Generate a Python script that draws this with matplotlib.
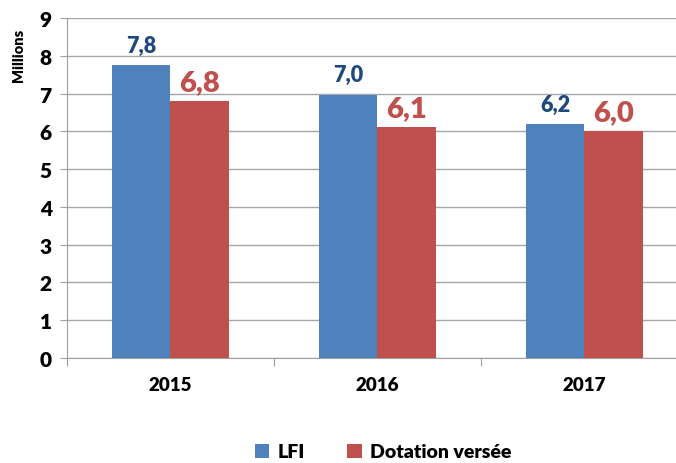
import numpy as np
import matplotlib.pyplot as plt

years = ['2015', '2016', '2017']
lfi = [7.75, 6.96, 6.19]
dotation = [6.81, 6.12, 6.02]
lfi_labels = ['7,8', '7,0', '6,2']
dot_labels = ['6,8', '6,1', '6,0']

blue = '#4F81BD'
red = '#C0504D'

plt.rcParams['font.family'] = ['Lato', 'DejaVu Sans']

fig = plt.figure(figsize=(6.76, 4.64), dpi=100)
ax = fig.add_axes([67 / 676, 1 - 359 / 464, 621 / 676, 340 / 464])

x = np.arange(len(years))
w = 0.285
b1 = ax.bar(x - w / 2, lfi, w, color=blue, label='LFI', zorder=3)
b2 = ax.bar(x + w / 2, dotation, w, color=red, label='Dotation versée', zorder=3)

for rect, lab in zip(b1, lfi_labels):
    ax.annotate(lab, (rect.get_x() + rect.get_width() / 2, rect.get_height()),
                xytext=(0, 7), textcoords='offset points', ha='center', va='bottom',
                fontsize=15.5, fontweight='heavy', color='#1F497D')
for rect, lab in zip(b2, dot_labels):
    ax.annotate(lab, (rect.get_x() + rect.get_width() / 2, rect.get_height()),
                xytext=(0, 4), textcoords='offset points', ha='center', va='bottom',
                fontsize=21, fontweight='heavy', color=red)

ax.set_xlim(-0.5, 2.5)
ax.set_ylim(0, 9)
ax.set_yticks(range(10))
ax.set_yticklabels([str(i) for i in range(10)], fontsize=15, fontweight='heavy')
ax.set_xticks([-0.5, 0.5, 1.5, 2.5])
ax.set_xticklabels([])
ax.set_xticks(x, minor=True)
ax.set_xticklabels(years, minor=True, fontsize=13.5, fontweight='heavy')
ax.tick_params(axis='x', which='minor', length=0, pad=13)
ax.tick_params(axis='x', which='major', length=6, color='#A0A0A0')
ax.tick_params(axis='y', length=5, color='#A0A0A0', pad=6)

ax.grid(axis='y', color='#A6A6A6', linewidth=1, zorder=0)
for s in ['top', 'right']:
    ax.spines[s].set_visible(False)
for s in ['left', 'bottom']:
    ax.spines[s].set_color('#A0A0A0')

fig.text(18 / 676, 1 - 55 / 464, 'Millions', rotation=90, ha='center', va='center',
         fontsize=10.5, fontweight='heavy')

fig.legend(loc='center', bbox_to_anchor=(383 / 676, 1 - 453 / 464), ncol=2,
           frameon=False, handlelength=0.75, handleheight=0.75,
           columnspacing=2.2, handletextpad=0.4, prop={'weight': 'heavy', 'size': 14})

fig.savefig('out.png', dpi=100)
